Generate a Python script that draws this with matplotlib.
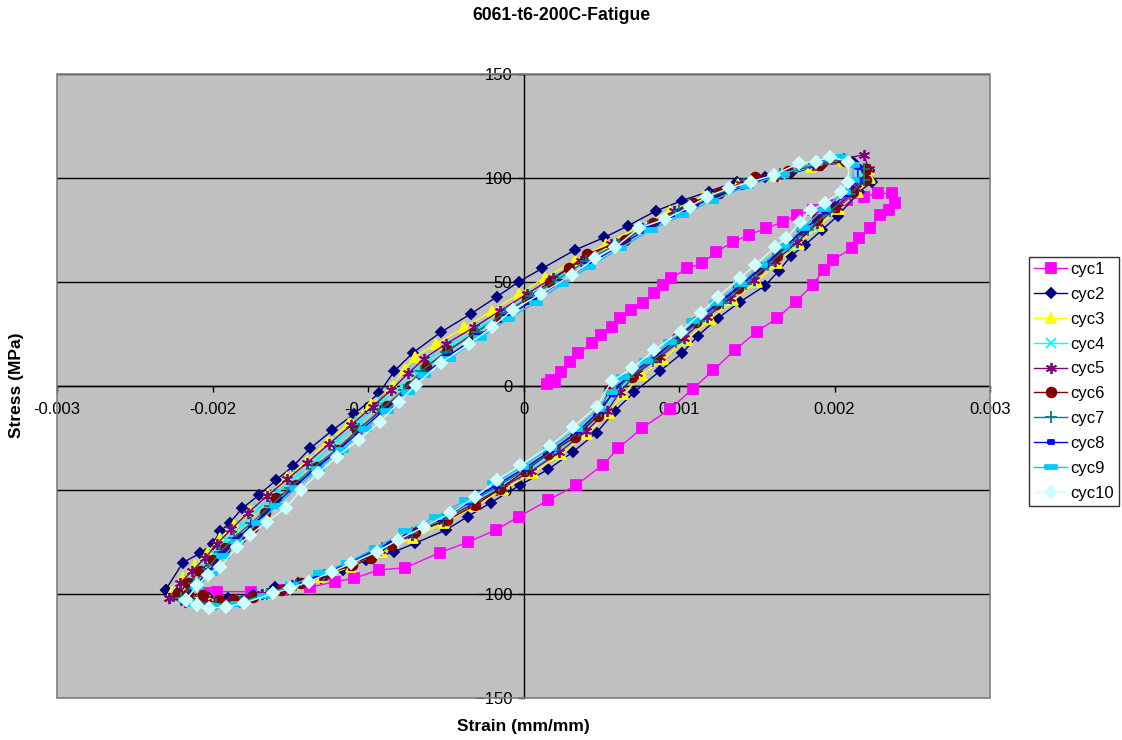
import numpy as np
import matplotlib
matplotlib.use('Agg')
import matplotlib.pyplot as plt
from matplotlib.patches import Rectangle

plt.rcParams['font.family'] = ['Liberation Sans', 'DejaVu Sans']

# Strain (mm/mm), stress (MPa) pairs, one list per cycle
cyc1 = [(0.00015, 1), (0.00018, 2.7), (0.00020, 1.9), (0.00024, 6.8), (0.00030, 11.6), (0.00035, 15.6),
        (0.00044, 20.4), (0.00050, 24.4), (0.00057, 28.4), (0.00062, 32.4), (0.00069, 36.4), (0.00077, 39.6),
        (0.00084, 44.4), (0.00090, 48.4), (0.00095, 51.6), (0.00105, 56.4), (0.00115, 58.8), (0.00124, 64.4),
        (0.00135, 69.2), (0.00145, 72.5), (0.00156, 75.7), (0.00167, 78.8), (0.00176, 82.1), (0.00186, 84.5),
        (0.00197, 86.9), (0.00208, 89.3), (0.00219, 90.9), (0.00228, 92.5), (0.00237, 92.5), (0.00239, 87.7),
        (0.00235, 84.5), (0.00229, 82.1), (0.00223, 75.7), (0.00216, 70.9), (0.00211, 66.1), (0.00199, 60.4),
        (0.00193, 55.6), (0.00186, 48.4), (0.00175, 40.4), (0.00163, 32.4), (0.00150, 26), (0.00136, 17.2),
        (0.00122, 7.5), (0.00109, -1.5), (0.00094, -11.3), (0.00076, -20.5), (0.00061, -30.1), (0.00051, -38.1),
        (0.00034, -47.7), (0.00016, -55), (-0.00003, -63), (-0.00018, -69.4), (-0.00036, -75.3), (-0.00054, -80.3),
        (-0.00076, -87.5), (-0.00093, -88.6), (-0.00109, -92.6), (-0.00121, -94.2), (-0.00137, -96.9),
        (-0.00155, -98), (-0.00175, -99), (-0.00197, -99), (-0.00205, -99.8)]

cyc2 = [(-0.00230, -98), (-0.00219, -85), (-0.00208, -80.6), (-0.00200, -76), (-0.00195, -70), (-0.00189, -66),
        (-0.00181, -59), (-0.00170, -52.5), (-0.00159, -45.3), (-0.00148, -38.6), (-0.00137, -30), (-0.00123, -21.5),
        (-0.00109, -13.6), (-0.00093, -3.7), (-0.00083, 7.1), (-0.00071, 15.9), (-0.00053, 25.8), (-0.00034, 34.5),
        (-0.00017, 42.8), (-0.00003, 50), (0.00012, 56.4), (0.00033, 65.2), (0.00052, 71.3), (0.00067, 76.8),
        (0.00085, 84), (0.00102, 89), (0.00119, 93.3), (0.00137, 98.1), (0.00155, 100.5), (0.00172, 102.1),
        (0.00192, 106.1), (0.00212, 107.7), (0.00222, 103.7), (0.00224, 98),
        (0.00216, 93.3), (0.00202, 81.6), (0.00192, 74.9), (0.00181, 67.6), (0.00172, 62.4), (0.00164, 55),
        (0.00155, 47.9), (0.00139, 40.2), (0.00125, 32.4), (0.00112, 23.9), (0.00102, 15.6), (0.00088, 7.2),
        (0.00071, -3.2), (0.00059, -12), (0.00047, -22.6), (0.00032, -31.7), (0.00016, -40.2), (-0.00002, -47.7),
        (-0.00021, -56.2), (-0.00036, -63), (-0.00050, -69.4), (-0.00070, -75.8), (-0.00083, -79.8),
        (-0.00101, -83.8), (-0.00116, -88.6), (-0.00130, -92.6), (-0.00145, -95), (-0.00160, -96.6),
        (-0.00174, -100.6), (-0.00190, -102.2), (-0.00202, -102.2), (-0.00214, -101.4), (-0.00223, -99.8),
        (-0.00230, -98)]

cyc3 = [(-0.00226, -99), (-0.00219, -92), (-0.00211, -86), (-0.00203, -80), (-0.00195, -73), (-0.00186, -67),
        (-0.00176, -60), (-0.00164, -52), (-0.00152, -44), (-0.00139, -36), (-0.00126, -27), (-0.00112, -18),
        (-0.00098, -9), (-0.00084, 0), (-0.00076, 8), (-0.00070, 14), (-0.00056, 20), (-0.00038, 28),
        (-0.00020, 36), (-0.00003, 44), (0.00014, 52), (0.00033, 60), (0.00053, 68), (0.00073, 76), (0.00094, 84),
        (0.00116, 91), (0.00138, 97), (0.00162, 101), (0.00185, 105), (0.00206, 108), (0.00222, 104), (0.00223, 100),
        (0.00215, 93), (0.00203, 85), (0.00190, 77), (0.00177, 68), (0.00163, 59), (0.00150, 50), (0.00135, 41),
        (0.00120, 32), (0.00105, 22), (0.00090, 13), (0.00076, 5), (0.00064, -4), (0.00055, -13), (0.00041, -23),
        (0.00024, -33), (0.00006, -42), (-0.00013, -50), (-0.00032, -58), (-0.00051, -66), (-0.00071, -73),
        (-0.00091, -80), (-0.00111, -87), (-0.00130, -92), (-0.00148, -96), (-0.00167, -100), (-0.00185, -103),
        (-0.00202, -103), (-0.00216, -101), (-0.00226, -99)]

cyc4 = [(-0.00222, -100), (-0.00215, -93), (-0.00207, -87), (-0.00199, -81), (-0.00191, -74), (-0.00181, -67),
        (-0.00170, -59), (-0.00158, -51), (-0.00145, -43), (-0.00132, -35), (-0.00119, -26), (-0.00105, -17),
        (-0.00091, -8), (-0.00078, 0), (-0.00070, 7), (-0.00060, 13), (-0.00046, 20), (-0.00028, 28),
        (-0.00011, 36), (0.00006, 44), (0.00023, 52), (0.00041, 60), (0.00060, 68), (0.00080, 76), (0.00100, 84),
        (0.00121, 91), (0.00143, 97), (0.00166, 101), (0.00188, 106), (0.00205, 109), (0.00217, 104), (0.00218, 100),
        (0.00211, 93), (0.00199, 85), (0.00186, 77), (0.00173, 68), (0.00159, 59), (0.00146, 50), (0.00131, 41),
        (0.00116, 32), (0.00101, 22), (0.00086, 13), (0.00071, 5), (0.00060, -3), (0.00052, -12), (0.00038, -22),
        (0.00021, -32), (0.00003, -41), (-0.00016, -49), (-0.00035, -57), (-0.00054, -65), (-0.00074, -72),
        (-0.00094, -79), (-0.00114, -86), (-0.00132, -91), (-0.00150, -96), (-0.00168, -100), (-0.00186, -104),
        (-0.00202, -104), (-0.00215, -103), (-0.00222, -100)]

cyc5 = [(-0.00228, -102), (-0.00221, -95), (-0.00213, -89), (-0.00205, -83), (-0.00197, -76), (-0.00188, -69),
        (-0.00177, -61), (-0.00165, -53), (-0.00152, -45), (-0.00139, -37), (-0.00125, -28), (-0.00111, -19),
        (-0.00097, -10), (-0.00085, -2), (-0.00074, 6), (-0.00064, 13), (-0.00050, 20), (-0.00032, 28),
        (-0.00015, 36), (0.00002, 44), (0.00019, 52), (0.00037, 60), (0.00056, 68), (0.00076, 76), (0.00097, 84),
        (0.00118, 91), (0.00140, 97), (0.00163, 101), (0.00186, 106), (0.00205, 109), (0.00219, 111), (0.00222, 104),
        (0.00214, 95), (0.00202, 86), (0.00189, 78), (0.00176, 69), (0.00162, 60), (0.00148, 51), (0.00133, 42),
        (0.00118, 33), (0.00103, 23), (0.00088, 14), (0.00073, 6), (0.00062, -3), (0.00054, -12), (0.00040, -22),
        (0.00023, -32), (0.00005, -41), (-0.00014, -49), (-0.00033, -57), (-0.00052, -65), (-0.00072, -72),
        (-0.00092, -79), (-0.00112, -86), (-0.00131, -91), (-0.00149, -96), (-0.00168, -100), (-0.00187, -103),
        (-0.00204, -104), (-0.00218, -104), (-0.00228, -102)]

cyc6 = [(-0.00222, -100), (-0.00216, -95), (-0.00208, -89), (-0.00200, -83.8), (-0.00192, -78.2), (-0.00182, -73.4),
        (-0.00174, -67.8), (-0.00166, -61), (-0.00159, -54.1), (-0.00146, -47.7), (-0.00133, -39), (-0.00119, -30.9),
        (-0.00107, -21.3), (-0.00088, -9.8), (-0.00073, 0), (-0.00063, 8.8), (-0.00049, 16.8), (-0.00032, 25),
        (-0.00015, 33.2), (0.00002, 41.7), (0.00017, 50), (0.00029, 56.5), (0.00041, 63.3), (0.00065, 70),
        (0.00083, 78.4), (0.00109, 87.7), (0.00126, 92.8), (0.00149, 100.5), (0.00170, 103), (0.00190, 106),
        (0.00207, 108), (0.00220, 104), (0.00220, 99),
        (0.00212, 93), (0.00200, 86), (0.00189, 80), (0.00179, 74.9), (0.00163, 62.4), (0.00151, 56),
        (0.00138, 46.8), (0.00124, 39.3), (0.00111, 30.5), (0.00099, 22.8), (0.00085, 13.9), (0.00070, 4.3),
        (0.00055, -2.1), (0.00048, -14.6), (0.00033, -24.8), (0.00016, -32.8), (0.00001, -41), (-0.00015, -49.5),
        (-0.00031, -57.4), (-0.00049, -64.6), (-0.00070, -70.2), (-0.00085, -76.6), (-0.00098, -83),
        (-0.00110, -86.2), (-0.00128, -91), (-0.00143, -95), (-0.00156, -98.2), (-0.00174, -101.4),
        (-0.00186, -103), (-0.00196, -103), (-0.00206, -100.6), (-0.00216, -100), (-0.00222, -100)]

cyc7 = [(-0.00220, -102), (-0.00212, -95), (-0.00203, -88), (-0.00195, -80), (-0.00186, -73), (-0.00175, -66),
        (-0.00163, -58), (-0.00150, -49), (-0.00136, -40), (-0.00121, -31), (-0.00106, -21), (-0.00091, -11),
        (-0.00077, -2), (-0.00066, 7), (-0.00050, 16), (-0.00030, 26), (-0.00012, 35), (0.00005, 43),
        (0.00022, 51), (0.00040, 60), (0.00060, 68), (0.00080, 77), (0.00100, 84), (0.00120, 91), (0.00142, 97),
        (0.00165, 102), (0.00188, 106), (0.00206, 109), (0.00219, 104), (0.00219, 99),
        (0.00210, 92), (0.00197, 84), (0.00183, 75), (0.00170, 67), (0.00157, 58), (0.00143, 49), (0.00128, 40),
        (0.00113, 31), (0.00098, 21), (0.00083, 12), (0.00068, 4), (0.00058, -3), (0.00050, -12), (0.00036, -22),
        (0.00019, -31), (0.00002, -40), (-0.00016, -48), (-0.00034, -56), (-0.00052, -64), (-0.00072, -71),
        (-0.00091, -78), (-0.00110, -85), (-0.00128, -91), (-0.00146, -96), (-0.00165, -100), (-0.00182, -104),
        (-0.00198, -105), (-0.00212, -104), (-0.00220, -102)]

cyc8 = [(-0.00219, -103), (-0.00211, -96), (-0.00202, -89), (-0.00194, -81), (-0.00185, -74), (-0.00173, -66),
        (-0.00161, -58), (-0.00148, -49), (-0.00134, -40), (-0.00119, -31), (-0.00104, -21), (-0.00090, -12),
        (-0.00076, -3), (-0.00065, 5), (-0.00049, 14), (-0.00029, 24), (-0.00011, 33), (0.00006, 41),
        (0.00024, 50), (0.00041, 58), (0.00061, 67), (0.00081, 76), (0.00101, 83), (0.00120, 90), (0.00143, 96),
        (0.00166, 102), (0.00188, 107), (0.00205, 110), (0.00215, 105), (0.00215, 99),
        (0.00208, 92), (0.00194, 84), (0.00181, 75), (0.00168, 67), (0.00155, 58), (0.00141, 49), (0.00126, 40),
        (0.00111, 31), (0.00096, 21), (0.00081, 12), (0.00066, 4), (0.00057, -4), (0.00049, -12), (0.00035, -22),
        (0.00018, -31), (0.00000, -40), (-0.00018, -48), (-0.00036, -56), (-0.00054, -64), (-0.00074, -71),
        (-0.00093, -78), (-0.00112, -85), (-0.00130, -91), (-0.00148, -96), (-0.00166, -101), (-0.00183, -105),
        (-0.00199, -106), (-0.00212, -105), (-0.00219, -103)]

cyc9 = [(-0.00218, -103), (-0.00210, -97), (-0.00201, -90), (-0.00193, -82), (-0.00184, -75), (-0.00171, -66),
        (-0.00159, -58), (-0.00146, -49), (-0.00132, -40), (-0.00117, -31), (-0.00102, -21), (-0.00088, -12),
        (-0.00074, -3), (-0.00064, 5), (-0.00048, 13), (-0.00028, 23), (-0.00010, 32), (0.00008, 40),
        (0.00025, 49), (0.00042, 57), (0.00062, 66), (0.00082, 75), (0.00102, 82), (0.00121, 89), (0.00144, 96),
        (0.00167, 102), (0.00188, 107), (0.00204, 110), (0.00212, 106), (0.00212, 99),
        (0.00206, 93), (0.00193, 85), (0.00180, 76), (0.00167, 67), (0.00153, 58), (0.00139, 49), (0.00124, 40),
        (0.00109, 31), (0.00094, 21), (0.00079, 12), (0.00064, 4), (0.00056, -3), (0.00048, -11), (0.00034, -21),
        (0.00017, -30), (-0.00001, -39), (-0.00019, -47), (-0.00037, -55), (-0.00056, -63), (-0.00076, -70),
        (-0.00095, -78), (-0.00113, -85), (-0.00131, -90), (-0.00149, -96), (-0.00167, -101), (-0.00184, -105),
        (-0.00200, -106), (-0.00212, -105), (-0.00218, -103)]

cyc10 = [(-0.00217, -103), (-0.00210, -96), (-0.00203, -91), (-0.00195, -87), (-0.00184, -77.4), (-0.00176, -71.8),
         (-0.00165, -65.4), (-0.00153, -58.9), (-0.00143, -50.1), (-0.00132, -42.1), (-0.00120, -34.1),
         (-0.00106, -26.1), (-0.00092, -17.3), (-0.00080, -7.7), (-0.00069, 0.5), (-0.00053, 11.1), (-0.00035, 20),
         (-0.00020, 28.4), (-0.00007, 36.4), (0.00011, 44.1), (0.00031, 53.2), (0.00046, 61.3), (0.00059, 66.5),
         (0.00074, 75.7), (0.00091, 80), (0.00107, 86), (0.00118, 90.9), (0.00132, 94.9), (0.00146, 98),
         (0.00161, 101.3), (0.00177, 106.9), (0.00188, 107.7), (0.00197, 110.1), (0.00209, 107.7),
         (0.00209, 98.1), (0.00204, 93.3), (0.00194, 88), (0.00185, 84.5), (0.00178, 78.8), (0.00169, 70.9),
         (0.00162, 66.8), (0.00149, 58), (0.00139, 51.6), (0.00125, 42.8), (0.00114, 34.8), (0.00101, 26),
         (0.00084, 17.2), (0.00070, 8.4), (0.00057, 2.5), (0.00047, -10.1), (0.00032, -19.7), (0.00017, -29),
         (-0.00002, -38.3), (-0.00017, -45.3), (-0.00031, -53.4), (-0.00047, -61.3), (-0.00064, -67.8),
         (-0.00081, -74.2), (-0.00094, -79.8), (-0.00111, -85.4), (-0.00123, -89.4), (-0.00138, -94.2),
         (-0.00150, -97.4), (-0.00161, -99.8), (-0.00180, -104.6), (-0.00191, -106.3), (-0.00202, -107),
         (-0.00210, -105.4), (-0.00217, -103)]

labels = ['cyc1', 'cyc2', 'cyc3', 'cyc4', 'cyc5', 'cyc6', 'cyc7', 'cyc8', 'cyc9', 'cyc10']
colors = ['#FF00FF', '#000080', '#FFFF00', '#00FFFF', '#800080', '#800000', '#008080', '#0000FF', '#00CCFF', '#CCFFFF']
x_ticks = [-0.003, -0.002, -0.001, 0, 0.001, 0.002, 0.003]
x_tick_labels = ['-0.003', '-0.002', '-0.001', '0', '0.001', '0.002', '0.003']
y_ticks = [-150, -100, -50, 0, 50, 100, 150]

# Excel style markers
short_dash = [(-1, -0.5), (1, -0.5), (1, 0.5), (-1, 0.5), (-1, -0.5)]
long_dash = [(-1, -0.3), (1, -0.3), (1, 0.3), (-1, 0.3), (-1, -0.3)]
markers = ['s', 'D', '^', 'x', (6, 2, 0), 'o', '+', short_dash, long_dash, 'D']
msizes = [6.5, 5.5, 7, 7, 8, 7, 8, 5, 8, 6.5]

fig = plt.figure(figsize=(11.22, 7.40), dpi=100)
ax = fig.add_axes([57 / 1122, 1 - 697.7 / 740, (990 - 57) / 1122, 624 / 740])
ax.set_facecolor('#C0C0C0')

all_cycles = [cyc1, cyc2, cyc3, cyc4, cyc5, cyc6, cyc7, cyc8, cyc9, cyc10]
for i, cyc in enumerate(all_cycles):
    strain, stress = np.array(cyc).T
    ax.plot(strain, stress, color=colors[i], lw=1, marker=markers[i], ms=msizes[i],
            mfc=colors[i], mec=colors[i], mew=1.3, label=labels[i], zorder=3 + i)

ax.set_xlim(-0.003, 0.003)
ax.set_ylim(-150, 150)
ax.set_xticks(x_ticks)
ax.set_xticklabels(x_tick_labels)
ax.set_yticks(y_ticks)

# horizontal gridlines only
for y in y_ticks:
    ax.axhline(y, color='black', lw=1, zorder=1)

# axes cross at the origin
ax.spines['left'].set_position(('data', 0))
ax.spines['bottom'].set_position(('data', 0))
for s in ['left', 'bottom']:
    ax.spines[s].set_color('black')
    ax.spines[s].set_linewidth(1)
    ax.spines[s].set_zorder(2)
for s in ['top', 'right']:
    ax.spines[s].set_visible(False)
ax.add_patch(Rectangle((0, 0), 1, 1, transform=ax.transAxes, fill=False,
                       edgecolor='#808080', lw=1.2, clip_on=False, zorder=20))

ax.tick_params(axis='both', direction='out', length=4, width=1, labelsize=12, colors='black')
ax.tick_params(axis='x', pad=8)
ax.tick_params(axis='y', pad=4)

fig.text(0.5, 1 - 15 / 740, '6061-t6-200C-Fatigue', ha='center', va='center',
         fontsize=12.7, fontweight='bold')
fig.text(523.5 / 1122, 1 - 727 / 740, 'Strain (mm/mm)', ha='center', va='center',
         fontsize=12.5, fontweight='bold')
fig.text(17 / 1122, 1 - 385.7 / 740, 'Stress (MPa)', ha='center', va='center',
         fontsize=12.5, fontweight='bold', rotation=90)

leg = fig.legend(loc='upper left', bbox_to_anchor=(1029 / 1122, 1 - 257 / 740), borderaxespad=0,
                 fontsize=12, frameon=True, fancybox=False, handlelength=2.0, handletextpad=0.2,
                 labelspacing=0.59, borderpad=0.3)
leg.get_frame().set_edgecolor('black')
leg.get_frame().set_linewidth(1)

fig.savefig('out.png', dpi=100)
